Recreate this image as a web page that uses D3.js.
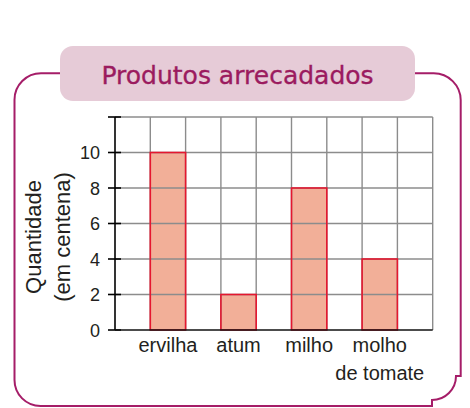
<!DOCTYPE html>
<html>
<head>
<meta charset="utf-8">
<script src="https://cdn.jsdelivr.net/npm/d3@7"></script>
<style>
  html, body { margin: 0; padding: 0; background: #fff; }
  svg { display: block; }
</style>
</head>
<body>
<svg id="chart" width="470" height="408"></svg>
<script>
// Produtos arrecadados (em centenas)
const categories = ["ervilha", "atum", "milho", "molho de tomate"];
const values = [10, 2, 8, 4];
const yTicks = [0, 2, 4, 6, 8, 10, 12];
const yTickLabels = ["0", "2", "4", "6", "8", "10", ""];
const categoryLines = [["ervilha"], ["atum"], ["milho"], ["molho", "de tomate"]];

const svg = d3.select("#chart");
const plot = { left: 115, right: 432.7, top: 117, bottom: 330 };

const x = d3.scaleBand()
  .domain(categories)
  .range([plot.left, plot.right])
  .paddingInner(0.5)
  .paddingOuter(0.5);

const y = d3.scaleLinear()
  .domain([0, 12])
  .range([plot.bottom, plot.top]);

// Frame around the chart
const frameColor = "#a51d68";
const frame = d3.path();
frame.moveTo(60, 73.3);
frame.lineTo(41, 73.3);
frame.arcTo(14.5, 73.3, 14.5, 100, 26.5);
frame.lineTo(14.5, 380);
frame.arcTo(14.5, 406, 41, 406, 26);
frame.lineTo(432, 406);
frame.lineTo(432, 400);
svg.append("path")
  .attr("d", frame.toString() + " A 24 24 0 0 0 456 376 L 460.7 376 L 460.7 100 A 27 27 0 0 0 433.7 73.3 L 415 73.3")
  .attr("fill", "none")
  .attr("stroke", frameColor)
  .attr("stroke-width", 2);

// Title banner
svg.append("rect")
  .attr("x", 60).attr("y", 46)
  .attr("width", 355).attr("height", 55)
  .attr("rx", 13).attr("ry", 13)
  .attr("fill", "#e6cbd7");

svg.append("text")
  .attr("x", 237.5).attr("y", 83.5)
  .attr("text-anchor", "middle")
  .attr("font-family", "DejaVu Sans")
  .attr("font-size", 25)
  .attr("fill", "#9b1b5f")
  .attr("stroke", "#9b1b5f")
  .attr("stroke-width", 0.35)
  .text("Produtos arrecadados");

// Bars (fill underneath the grid)
const barG = svg.append("g");
barG.selectAll("rect")
  .data(values)
  .join("rect")
  .attr("x", (d, i) => x(categories[i]))
  .attr("y", d => y(d))
  .attr("width", x.bandwidth())
  .attr("height", d => y(0) - y(d))
  .attr("fill", "#f2af98");

// Grid
const gridColor = "#8c8c8c";
const grid = svg.append("g").attr("stroke", gridColor).attr("stroke-width", 1.4);
grid.selectAll("line.h")
  .data(yTicks.filter(t => t > 0))
  .join("line")
  .attr("class", "h")
  .attr("x1", plot.left).attr("x2", plot.right)
  .attr("y1", d => y(d)).attr("y2", d => y(d));

const half = x.step() / 2;
const vLines = d3.range(1, Math.round((plot.right - plot.left) / half) + 1)
  .map(k => plot.left + k * half);
grid.selectAll("line.v")
  .data(vLines)
  .join("line")
  .attr("class", "v")
  .attr("x1", d => d).attr("x2", d => d)
  .attr("y1", plot.top).attr("y2", plot.bottom);

// Bar outlines on top of the grid
svg.append("g").selectAll("rect")
  .data(values)
  .join("rect")
  .attr("x", (d, i) => x(categories[i]))
  .attr("y", d => y(d))
  .attr("width", x.bandwidth())
  .attr("height", d => y(0) - y(d))
  .attr("fill", "none")
  .attr("stroke", "#e5172f")
  .attr("stroke-width", 1.6);

// Axes
const textColor = "#231f20";
const yAxis = d3.axisLeft(y)
  .tickValues(yTicks)
  .tickFormat((d, i) => yTickLabels[i])
  .tickSize(0)
  .tickPadding(15);

const yAxisG = svg.append("g")
  .attr("transform", `translate(${plot.left},0)`)
  .call(yAxis);
yAxisG.select(".domain").remove();
yAxisG.selectAll("text")
  .attr("font-family", "Liberation Sans, Arial, sans-serif")
  .attr("font-size", 18)
  .attr("fill", textColor)
  .attr("dy", "0.36em");

svg.append("g").selectAll("line")
  .data(yTicks)
  .join("line")
  .attr("x1", plot.left - 7).attr("x2", plot.left + 6)
  .attr("y1", d => y(d)).attr("y2", d => y(d))
  .attr("stroke", "#000").attr("stroke-width", 1.6);

svg.append("line")
  .attr("x1", plot.left).attr("x2", plot.left)
  .attr("y1", y(12)).attr("y2", y(0))
  .attr("stroke", "#000").attr("stroke-width", 1.6);

svg.append("line")
  .attr("x1", plot.left).attr("x2", plot.right)
  .attr("y1", y(0)).attr("y2", y(0))
  .attr("stroke", "#111").attr("stroke-width", 1.6);

// Category labels
const catG = svg.append("g")
  .attr("font-family", "Liberation Sans, Arial, sans-serif")
  .attr("font-size", 20)
  .attr("fill", textColor)
  .attr("text-anchor", "middle");
categories.forEach((c, i) => {
  const t = catG.append("text")
    .attr("x", x(c) + x.bandwidth() / 2)
    .attr("y", 352);
  categoryLines[i].forEach((line, j) => {
    t.append("tspan")
      .attr("x", x(c) + x.bandwidth() / 2)
      .attr("dy", j === 0 ? 0 : 28)
      .text(line);
  });
});

// Y axis title
const yTitle = svg.append("g")
  .attr("font-family", "Liberation Sans, Arial, sans-serif")
  .attr("font-size", 22)
  .attr("fill", textColor)
  .attr("text-anchor", "middle");
yTitle.append("text")
  .attr("transform", "translate(41,237) rotate(-90)")
  .text("Quantidade");
yTitle.append("text")
  .attr("transform", "translate(70,237) rotate(-90)")
  .text("(em centena)");
</script>
</body>
</html>
